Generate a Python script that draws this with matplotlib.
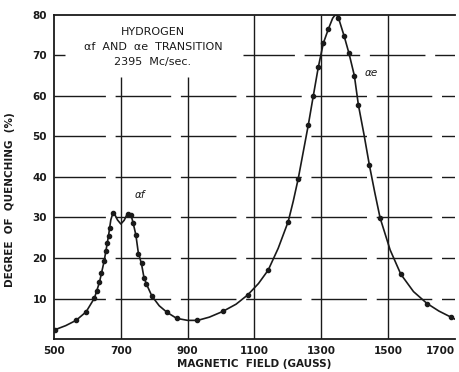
# Hydrogen alpha-f / alpha-e transition quenching curve at 2395 Mc/sec
import matplotlib
matplotlib.use('Agg')
import matplotlib.pyplot as plt

# measured points (dots)
field = [503, 566, 596, 621, 628, 636, 642, 650, 656, 660,
         664, 668, 677, 722, 731, 736, 745, 752, 762, 769,
         776, 793, 838, 867, 928, 1005, 1080, 1141, 1201, 1231,
         1261, 1276, 1291, 1306, 1321, 1344, 1351, 1368, 1383, 1399,
         1411, 1444, 1476, 1538, 1616, 1688]
quench = [2.3, 4.6, 6.7, 10.1, 11.9, 14.0, 16.4, 19.2, 21.7, 23.6,
          25.4, 27.4, 31.0, 30.9, 30.5, 28.6, 25.7, 21.0, 18.8, 15.1,
          13.6, 10.6, 6.6, 5.1, 4.7, 6.8, 10.9, 17.0, 29.0, 39.6,
          52.8, 60.0, 67.1, 73.0, 76.5, 80.4, 79.3, 74.9, 70.5, 65.0,
          57.8, 42.9, 29.9, 16.0, 8.7, 5.4]

# drawn curve
curve_x = [500, 535, 566, 596, 621, 636, 650, 663, 670, 676, 681, 690, 700, 710, 717, 723,
           731, 737, 745, 752, 762, 769, 777, 793, 815, 838, 867, 900, 930, 965,
           1005, 1045, 1080, 1112, 1141, 1171, 1201, 1216, 1231, 1246, 1261, 1276,
           1291, 1306, 1321, 1334, 1344, 1351, 1368, 1383, 1399, 1411, 1428, 1444,
           1460, 1476, 1506, 1538, 1576, 1616, 1652, 1688, 1700]
curve_y = [2.2, 3.3, 4.6, 6.7, 10.1, 14.0, 19.2, 25.4, 29.4, 31.0, 30.9, 29.4, 28.4, 29.3, 30.5, 31.0,
           30.5, 28.6, 25.7, 21.5, 18.5, 15.3, 13.5, 10.6, 8.2, 6.6, 5.1, 4.6, 4.6, 5.4,
           6.8, 8.6, 10.9, 13.7, 17.0, 22.4, 29.0, 34.0, 39.6, 46.2, 52.8, 60.0,
           67.1, 73.0, 76.5, 79.2, 80.3, 79.4, 74.9, 70.5, 65.0, 57.8, 50.4, 42.9,
           36.2, 29.9, 22.0, 16.0, 11.7, 8.8, 6.9, 5.4, 4.9]

xticks = [500, 700, 900, 1100, 1300, 1500, 1700]
xlabels = ['500', '700', '900', '1100', '1300', '1500', '1700']
yticks = [10, 20, 30, 40, 50, 60, 70, 80]

ink = '#1a1a1a'
fig = plt.figure(figsize=(4.6, 3.72), dpi=100)
ax = fig.add_axes([0.1174, 0.0887, 0.8716, 0.871])

# vertical grid: the two under the title block stop short of the top
ax.vlines([700, 900], 0, 64.7, color=ink, lw=1.0, zorder=1)
ax.vlines([1100, 1300, 1500], 0, 80, color=ink, lw=1.0, zorder=1)
ax.hlines([10, 20, 30, 40, 50, 60], 500, 1700, color=ink, lw=1.0,
          linestyles=[(3, (40, 7))], zorder=1)
# the 70 line is interrupted by the title block, only a stub at the axis
ax.hlines(70, 1065, 1700, color=ink, lw=1.0, linestyles=[(3, (40, 7))], zorder=1)
ax.hlines(70, 500, 533, color=ink, lw=1.0, zorder=1)

ax.plot(curve_x, curve_y, color=ink, lw=1.2, zorder=3)
ax.plot(field, quench, 'o', color=ink, ms=3.0, zorder=4)

ax.set_xlim(500, 1700)
ax.set_ylim(0, 80)
ax.set_xticks(xticks)
ax.set_xticklabels(xlabels)
ax.set_yticks(yticks)
ax.tick_params(length=0, labelsize=7.5, colors=ink, pad=5)
for lab in ax.get_xticklabels() + ax.get_yticklabels():
    lab.set_fontweight('bold')
ax.get_xticklabels()[-1].set_horizontalalignment('right')
ax.spines['right'].set_visible(False)
for s in ['left', 'bottom', 'top']:
    ax.spines[s].set_linewidth(1.3)
    ax.spines[s].set_color(ink)

ax.set_xlabel('MAGNETIC  FIELD (GAUSS)', fontsize=7.5, fontweight='bold', color=ink, labelpad=2)
ax.set_ylabel('DEGREE  OF  QUENCHING  (%)', fontsize=7.5, fontweight='bold', color=ink, labelpad=8)
ax.yaxis.set_label_coords(-0.097, 0.43)

ax.text(0.247, 0.948, 'HYDROGEN', transform=ax.transAxes, ha='center', va='center',
        fontsize=8, color=ink)
ax.text(0.247, 0.901, 'αf  AND  αe  TRANSITION', transform=ax.transAxes, ha='center',
        va='center', fontsize=8, color=ink)
ax.text(0.247, 0.855, '2395  Mc/sec.', transform=ax.transAxes, ha='center', va='center',
        fontsize=8, color=ink)
ax.text(757, 35.5, 'αf', ha='center', va='center', fontsize=7.5, style='italic', color=ink)
ax.text(1449, 65.7, 'αe', ha='center', va='center', fontsize=7.5, style='italic', color=ink)

fig.savefig('out.png', dpi=100)
